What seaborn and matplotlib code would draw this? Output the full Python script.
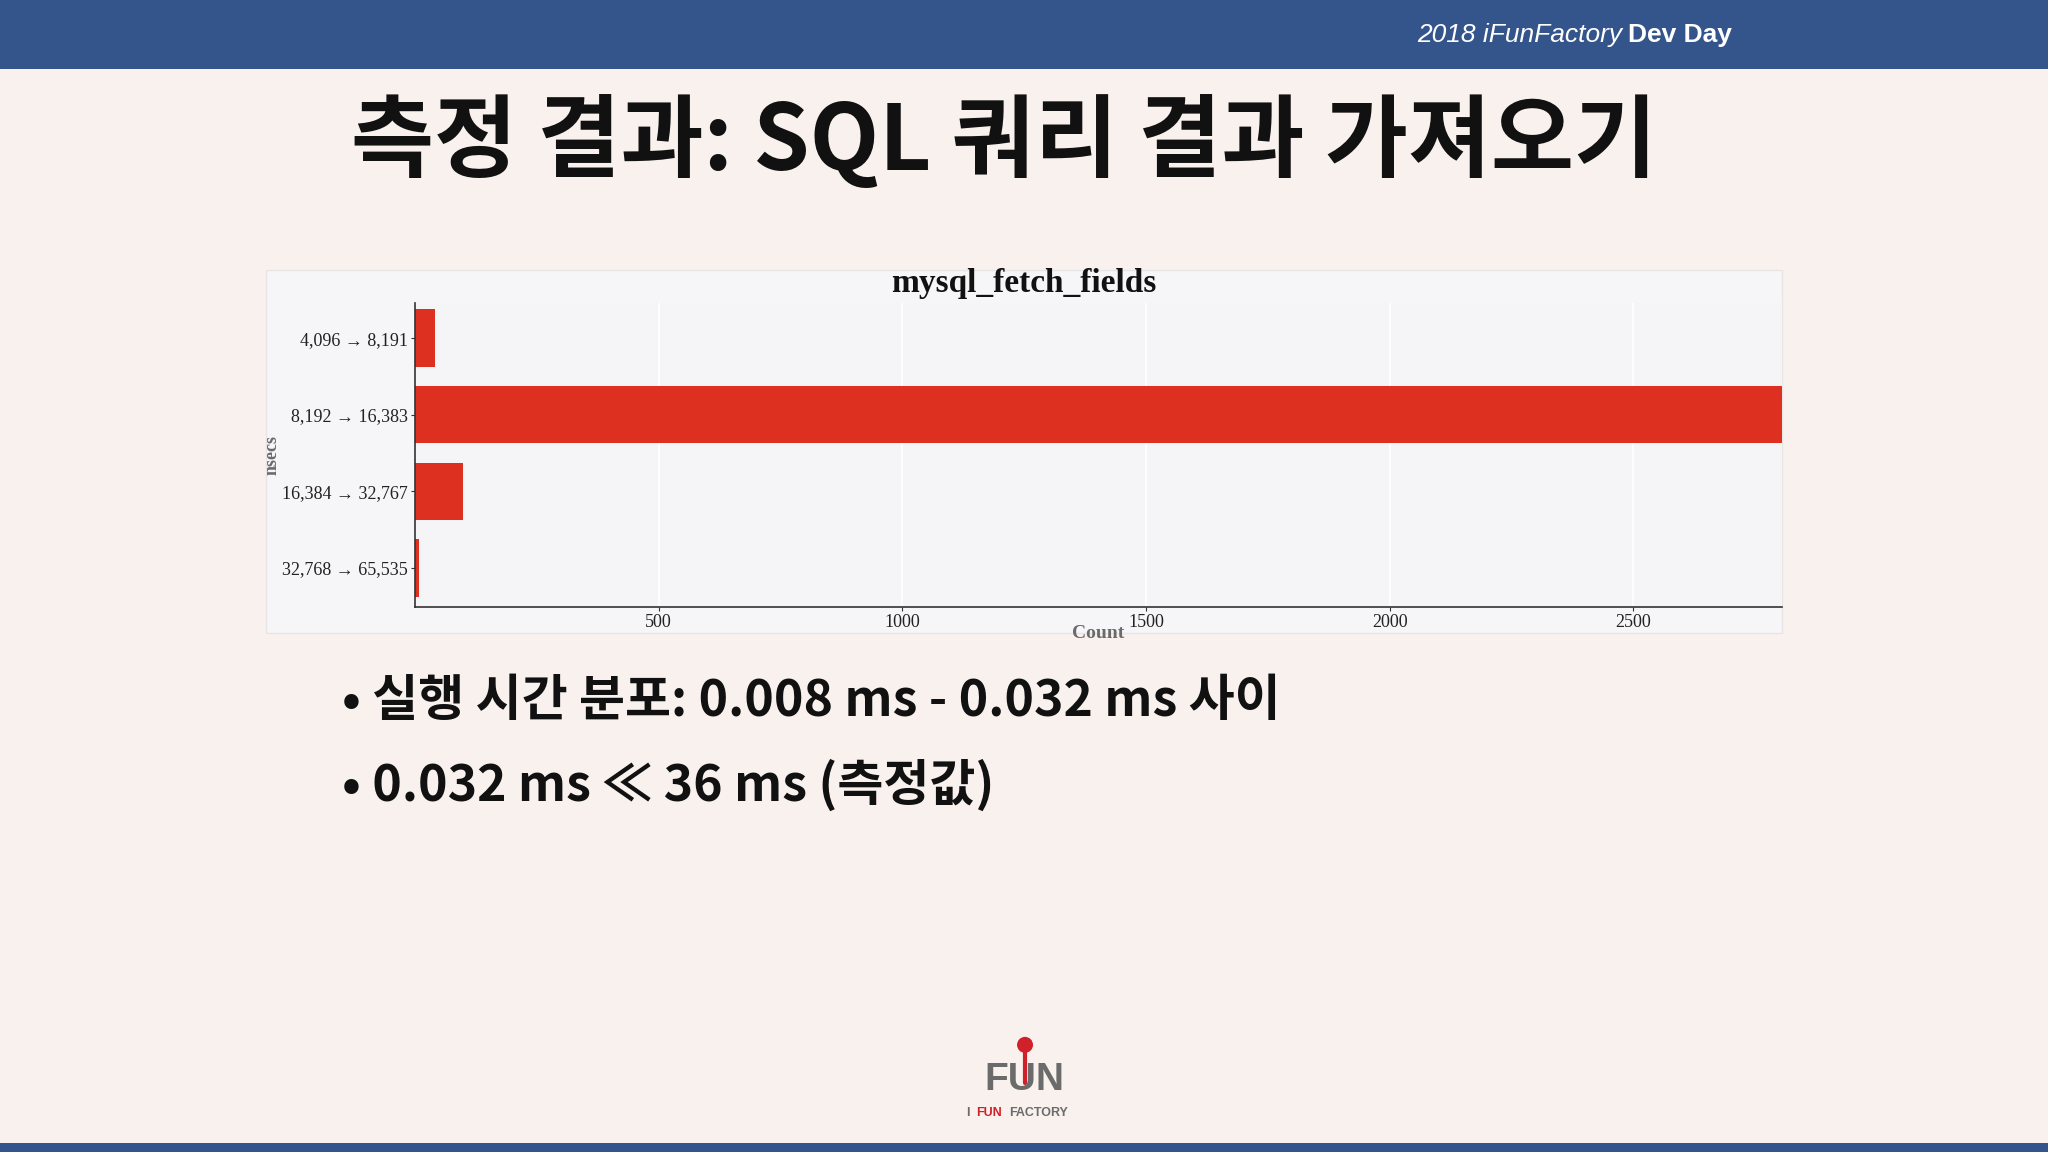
import seaborn as sns
import matplotlib.pyplot as plt
from matplotlib.patches import Rectangle, Ellipse
from matplotlib.lines import Line2D

# histogram of mysql_fetch_fields latency (nsecs buckets)
bins = ["4,096 → 8,191", "8,192 → 16,383", "16,384 → 32,767", "32,768 → 65,535"]
counts = [42, 2805, 98, 9]
xticks = [500, 1000, 1500, 2000, 2500]

slide_title = "측정 결과: SQL 쿼리 결과 가져오기"
bullets = ["• 실행 시간 분포: 0.008 ms - 0.032 ms 사이",
           "• 0.032 ms ≪ 36 ms (측정값)"]

sns.set_theme(style="whitegrid")
plt.rcParams['font.family'] = ['Noto Sans CJK KR', 'DejaVu Sans']
serif = ['Liberation Serif', 'DejaVu Serif']
sans = ['Liberation Sans', 'DejaVu Sans']

fig = plt.figure(figsize=(20.48, 11.52), dpi=100)
fig.patch.set_facecolor('#f8f1ee')

# header / footer bands
fig.add_artist(Rectangle((0, 0.940), 1, 0.06, transform=fig.transFigure,
                         facecolor='#34558b', edgecolor='none', zorder=0))
fig.add_artist(Rectangle((0, 0), 1, 0.0078, transform=fig.transFigure,
                         facecolor='#34558b', edgecolor='none', zorder=0))
fig.text(0.792, 0.970, "2018 iFunFactory", ha='right', va='center', color='white',
         fontsize=19, style='italic', family=sans)
fig.text(0.795, 0.970, "Dev Day", ha='left', va='center', color='white',
         fontsize=19, weight='bold', family=sans)

# slide title
fig.text(0.49, 0.877, slide_title, ha='center', va='center', fontsize=65,
         weight='black', color='#111111')

# chart panel
fig.add_artist(Rectangle((0.1299, 0.4505), 0.740, 0.315, transform=fig.transFigure,
                         facecolor='#f6f5f7', edgecolor='#e8e5e7', lw=1, zorder=0))

ax = fig.add_axes([0.2026, 0.4731, 0.6675, 0.2639])
ax.set_facecolor('#f5f4f7')
sns.barplot(x=counts, y=bins, orient='h', color='#dd3020', saturation=1,
            width=0.75, linewidth=0, ax=ax)
ax.set_xlim(0, 2805)
ax.set_ylim(3.51, -0.46)
ax.set_xticks(xticks, labels=[str(t) for t in xticks], fontfamily=serif, fontsize=13)
ax.set_yticks(range(len(bins)), labels=bins, fontfamily=serif, fontsize=13)
ax.grid(axis='x', color='white', lw=1.2)
ax.grid(axis='y', visible=False)
for s in ['top', 'right']:
    ax.spines[s].set_visible(False)
for s in ['left', 'bottom']:
    ax.spines[s].set_color('#333333')
    ax.spines[s].set_linewidth(1.2)
ax.tick_params(axis='both', length=3, width=0.8, color='#333333', pad=2,
               labelcolor='#222222', bottom=True, left=True)
ax.set_xlabel("Count", fontfamily=serif, fontsize=14, weight='bold', color='#6a6a6a')
ax.set_ylabel("nsecs", fontfamily=serif, fontsize=13, weight='bold', color='#6a6a6a')
ax.xaxis.set_label_coords(0.5, -0.06)
ax.yaxis.set_label_coords(-0.098, 0.5)
fig.text(0.5, 0.7543, "mysql_fetch_fields", ha='center', va='center',
         fontfamily=serif, fontsize=24, weight='bold', color='#111111')

# bullets
fig.text(0.167, 0.391, bullets[0], ha='left', va='center', fontsize=36,
         weight='bold', color='#111111')
fig.text(0.167, 0.318, bullets[1], ha='left', va='center', fontsize=36,
         weight='bold', color='#111111')

# logo
fig.text(0.5, 0.0625, "FUN", ha='center', va='center', fontsize=28, weight='black',
         color='#6b6b6b', family=sans)
fig.add_artist(Line2D([0.5005, 0.5005], [0.060, 0.093], transform=fig.transFigure,
                      color='#d0202a', lw=3))
fig.add_artist(Ellipse((0.5005, 0.0930), 0.0078, 0.0139, transform=fig.transFigure,
                       facecolor='#d0202a', edgecolor='none'))
fig.text(0.4715, 0.034, "I", ha='left', va='center', fontsize=9, weight='bold',
         color='#6b6b6b', family=sans)
fig.text(0.4765, 0.034, "FUN", ha='left', va='center', fontsize=9, weight='bold',
         color='#d0202a', family=sans)
fig.text(0.4925, 0.034, "FACTORY", ha='left', va='center', fontsize=9, weight='bold',
         color='#6b6b6b', family=sans)

fig.savefig("out.png", dpi=100, facecolor=fig.get_facecolor())
